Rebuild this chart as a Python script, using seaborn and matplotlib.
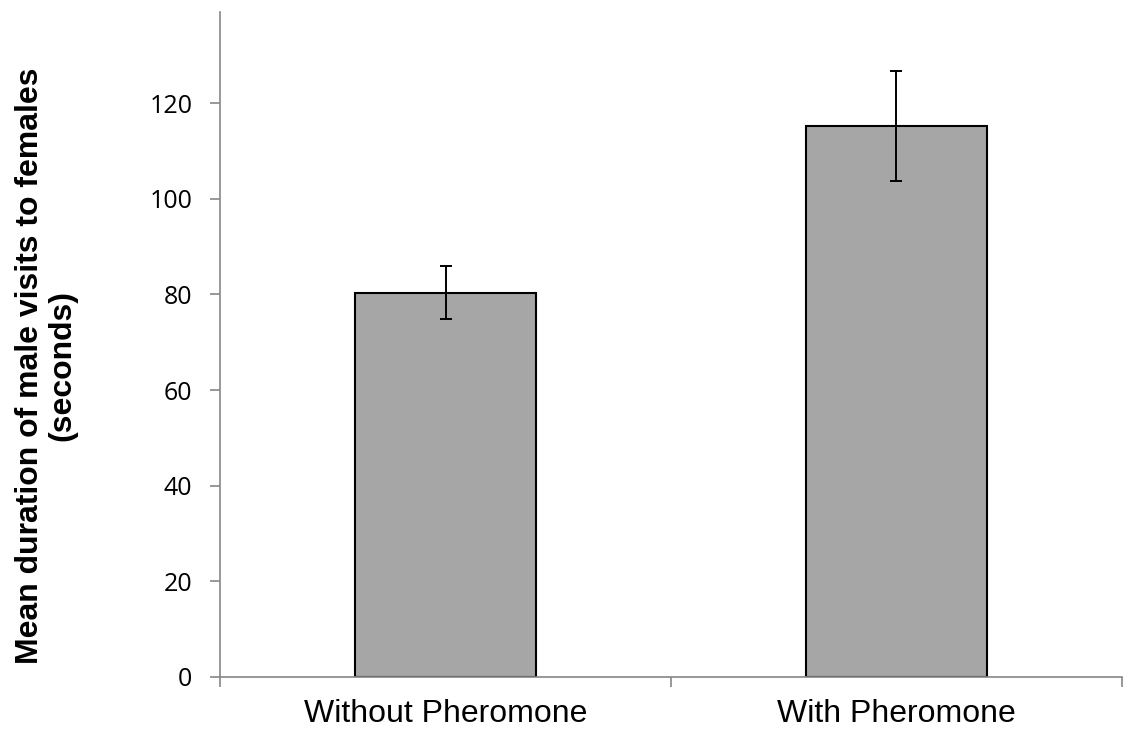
import matplotlib
matplotlib.use("Agg")
import matplotlib.pyplot as plt
import numpy as np
import pandas as pd
import seaborn as sns

groups = ["Without Pheromone", "With Pheromone"]
means = [80.4, 115.3]
errs = [5.6, 11.5]

df = pd.DataFrame({"group": groups, "mean": means})

sns.set_style("white")
plt.rcParams["text.color"] = "black"
plt.rcParams["xtick.color"] = "black"
plt.rcParams["ytick.color"] = "black"
axis_grey = "#868686"

fig = plt.figure(figsize=(11.23, 7.31), dpi=100)
ax = fig.add_axes([0.196, 0.074, 0.803, 0.909])

sns.barplot(data=df, x="group", y="mean", color="#A6A6A6", width=0.4,
            edgecolor="black", linewidth=1.5, saturation=1, ax=ax)
ax.errorbar(x=np.arange(len(groups)), y=means, yerr=errs, fmt="none",
            ecolor="black", elinewidth=1.4, capsize=4.5, capthick=1.4)

ax.set_xlim(-0.5, 1.5)
ax.set_ylim(0, 139)
ax.set_yticks(range(0, 121, 20))
ax.set_yticklabels([str(v) for v in range(0, 121, 20)],
                   fontfamily="Open Sans", fontsize=18, color="black")

# category boundaries get the tick marks, labels sit in the middle
ax.set_xticks([-0.5, 0.5, 1.5])
ax.set_xticklabels([])
ax.set_xticks(np.arange(len(groups)), minor=True)
ax.set_xticklabels(groups, minor=True, fontfamily="Liberation Sans",
                   fontsize=23, color="black")
ax.tick_params(axis="x", which="minor", bottom=True, length=0, pad=16)
ax.tick_params(axis="x", which="major", bottom=True, length=7, width=1.2,
               color=axis_grey, direction="out")
ax.tick_params(axis="y", left=True, length=7, width=1.2, color=axis_grey,
               direction="out", pad=13)

ax.set_xlabel("")
ax.set_ylabel("Mean duration of male visits to females\n(seconds)",
              fontfamily="Liberation Sans", fontweight="bold", fontsize=23,
              linespacing=1.1, color="black")
ax.yaxis.set_label_coords(-0.158, 0.468)

for side in ["top", "right"]:
    ax.spines[side].set_visible(False)
for side in ["left", "bottom"]:
    ax.spines[side].set_color(axis_grey)
    ax.spines[side].set_linewidth(1.2)

fig.savefig("out.png", dpi=100)
